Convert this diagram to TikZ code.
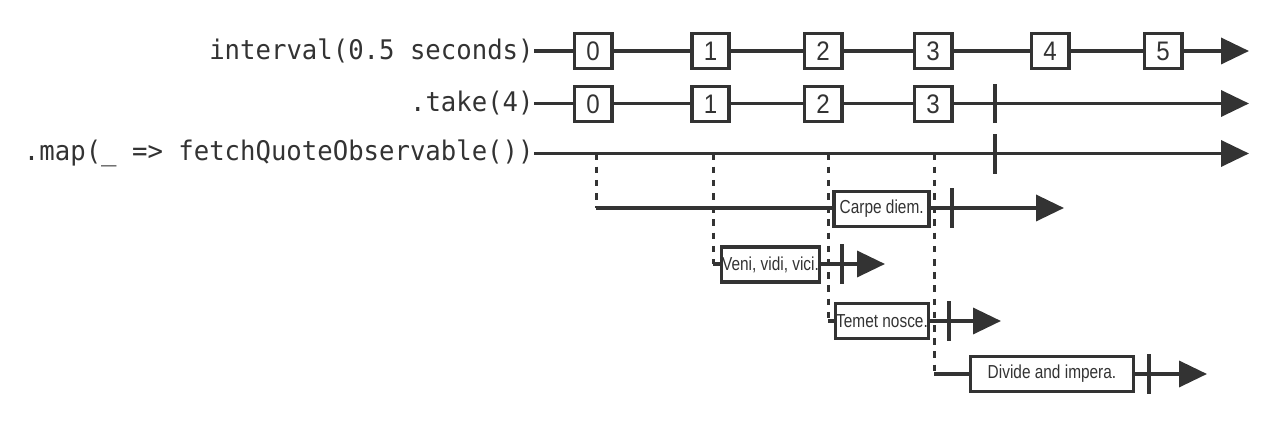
\documentclass[tikz,border=0pt]{standalone}
\usepackage{fontspec}
\newfontfamily\monofont[FakeStretch=0.95]{DejaVu Sans Mono}
\newfontfamily\digitfont[FakeStretch=0.9]{Liberation Sans}
\newfontfamily\quotefont[FakeStretch=0.82]{Liberation Sans}
\usetikzlibrary{arrows.meta}
\definecolor{ink}{HTML}{333333}
\tikzset{
  lbl/.style={font=\monofont\fontsize{13.5pt}{15pt}\selectfont, anchor=east, text=ink, inner sep=0pt},
  val/.style={draw=ink, line width=1.8pt, fill=white, minimum width=18.7pt, minimum height=17.6pt, inner sep=0pt, text=ink, font=\digitfont\fontsize{13.4pt}{15pt}\selectfont},
  quote/.style={draw=ink, line width=1.8pt, fill=white, minimum height=17.6pt, inner sep=0pt, text=ink, font=\quotefont\fontsize{9.4pt}{11pt}\selectfont},
  stream/.style={draw=ink, line width=1.8pt, -{Triangle[length=14pt,width=13pt]}},
  endtick/.style={draw=ink, line width=1.7pt},
  spawn/.style={draw=ink, line width=1.5pt, dash pattern=on 3.3pt off 3.3pt},
}
\begin{document}
\begin{tikzpicture}[x=0.5pt,y=-0.5pt]
\useasboundingbox (0,0) rectangle (1280,426);
% labels
\node[lbl] (l1) at (534,51) {interval(0.5 seconds)};
\node[lbl] (l2) at (534,103.5) {.take(4)};
\node[lbl] (l3) at (534,153.5) {.map(\_ => fetchQuoteObservable())};
% stream ends
\coordinate (e1) at (1249,51);
\coordinate (e2) at (1249,103.5);
\coordinate (e3) at (1249,153.5);
% spawn points on map line
\coordinate (mA) at (596,153.5);
\coordinate (mB) at (713,153.5);
\coordinate (mC) at (828,153.5);
\coordinate (mD) at (934,153.5);
% inner stream starts and ends
\coordinate (sA) at (596,208);
\coordinate (sB) at (713,264);
\coordinate (sC) at (828,321);
\coordinate (sD) at (934,374);
\coordinate (eA) at (1064,208);
\coordinate (eB) at (885,264);
\coordinate (eC) at (1001,321);
\coordinate (eD) at (1207,374);
% main streams
\draw[stream] (l1.east) -- (e1);
\draw[stream] (l2.east) -- (e2);
\draw[stream] (l3.east) -- (e3);
% inner streams
\draw[stream] (sA) -- (eA);
\draw[stream] (sB) -- (eB);
\draw[stream] (sC) -- (eC);
\draw[stream] (sD) -- (eD);
% spawn dashed lines
\draw[spawn] (mA) -- (sA);
\draw[spawn] (mB) -- (sB);
\draw[spawn] (mC) -- (sC);
\draw[spawn] (mD) -- (sD);
% interval values
\node[val] (a0) at (593,51) {0};
\node[val] (a1) at (710.5,51) {1};
\node[val] (a2) at (823,51) {2};
\node[val] (a3) at (933,51) {3};
\node[val] (a4) at (1050,51) {4};
\node[val] (a5) at (1163,51) {5};
% take values
\node[val] (b0) at (593,104) {0};
\node[val] (b1) at (710.5,104) {1};
\node[val] (b2) at (823,104) {2};
\node[val] (b3) at (933,104) {3};
% quotes
\node[quote, minimum width=47.5pt] (qA) at (881.7,209) {Carpe diem.};
\node[quote, minimum width=49pt] (qB) at (770.5,264.5) {Veni, vidi, vici.};
\node[quote, minimum width=46.5pt] (qC) at (882,321) {Temet nosce.};
\node[quote, minimum width=81.5pt] (qD) at (1052,374) {Divide and impera.};
% completion ticks
\coordinate (t2) at (995,103.5);
\coordinate (t3) at (995,154);
\coordinate (tA) at (952,208);
\coordinate (tB) at (842,264);
\coordinate (tC) at (949,321);
\coordinate (tD) at (1149,374);
\foreach \t in {t2,t3,tA,tB,tC,tD}
  \draw[endtick] ([yshift=-9.8pt]\t) -- ([yshift=9.8pt]\t);
\end{tikzpicture}
\end{document}
